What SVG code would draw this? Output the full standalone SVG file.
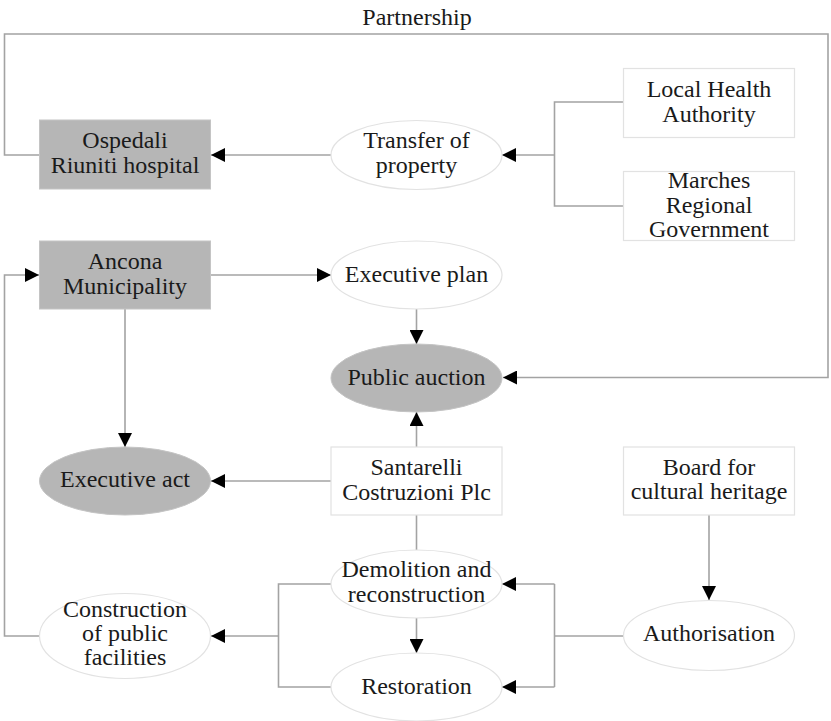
<svg xmlns="http://www.w3.org/2000/svg" width="831" height="721" viewBox="0 0 831 721">
<style>
  text { font-family: "Liberation Serif", "Times New Roman", serif; font-size: 24px; fill: #1a1a1a; text-anchor: middle; }
  .dark { fill: #b6b6b6; stroke: #c4c4c4; stroke-width: 1; }
  .light { fill: #ffffff; stroke: #e2e2e2; stroke-width: 1.2; }
  .conn { fill: none; stroke: #a3a3a3; stroke-width: 1.6; }
</style>
<defs>
  <marker id="arr" markerUnits="userSpaceOnUse" markerWidth="14" markerHeight="14" refX="14" refY="7" orient="auto">
    <path d="M0,0 L14,7 L0,14 z" fill="#000"/>
  </marker>
</defs>
<rect width="831" height="721" fill="#ffffff"/>

<text x="417" y="25">Partnership</text>

<g id="connectors">
  <path class="conn" d="M39,155 H4.5 V34 H828 V377.5 H503" marker-end="url(#arr)"/>
  <path class="conn" d="M331,155 H211" marker-end="url(#arr)"/>
  <path class="conn" d="M623,102 H554.5 V206 H623"/>
  <path class="conn" d="M554.5,155 H502" marker-end="url(#arr)"/>
  <path class="conn" d="M211,275 H331" marker-end="url(#arr)"/>
  <path class="conn" d="M416.5,309 V344" marker-end="url(#arr)"/>
  <path class="conn" d="M416.5,447 V412" marker-end="url(#arr)"/>
  <path class="conn" d="M125,309 V447" marker-end="url(#arr)"/>
  <path class="conn" d="M331,481 H211" marker-end="url(#arr)"/>
  <path class="conn" d="M416.5,515 V550"/>
  <path class="conn" d="M416.5,618 V653" marker-end="url(#arr)"/>
  <path class="conn" d="M331,584 H278.5 V687 H331"/>
  <path class="conn" d="M278.5,636 H211" marker-end="url(#arr)"/>
  <path class="conn" d="M709,515 V600" marker-end="url(#arr)"/>
  <path class="conn" d="M623,636 H554.5"/>
  <path class="conn" d="M554.5,584 V687"/>
  <path class="conn" d="M554.5,584 H502" marker-end="url(#arr)"/>
  <path class="conn" d="M554.5,687 H502" marker-end="url(#arr)"/>
  <path class="conn" d="M39,636 H4.5 V275 H39" marker-end="url(#arr)"/>
</g>

<g id="ospedali">
  <rect class="dark" x="39.5" y="120" width="171" height="69"/>
  <text x="125" y="148">Ospedali</text>
  <text x="125" y="173">Riuniti hospital</text>
</g>
<g id="transfer">
  <ellipse class="light" cx="416.5" cy="155" rx="85.5" ry="34.5"/>
  <text x="416.5" y="148">Transfer of</text>
  <text x="416.5" y="173">property</text>
</g>
<g id="local-health">
  <rect class="light" x="623.5" y="68.5" width="171" height="69"/>
  <text x="709" y="97">Local Health</text>
  <text x="709" y="122">Authority</text>
</g>
<g id="marches">
  <rect class="light" x="623.5" y="171.5" width="171" height="69"/>
  <text x="709" y="188">Marches</text>
  <text x="709" y="212.5">Regional</text>
  <text x="709" y="236.5">Government</text>
</g>
<g id="ancona">
  <rect class="dark" x="39.5" y="241" width="171" height="68"/>
  <text x="125" y="268.5">Ancona</text>
  <text x="125" y="293.5">Municipality</text>
</g>
<g id="executive-plan">
  <ellipse class="light" cx="416.5" cy="275" rx="85.5" ry="34"/>
  <text x="416.5" y="282">Executive plan</text>
</g>
<g id="public-auction">
  <ellipse class="dark" cx="416.5" cy="378" rx="85.5" ry="34" stroke="none"/>
  <text x="416.5" y="384.5">Public auction</text>
</g>
<g id="executive-act">
  <ellipse class="dark" cx="125" cy="481" rx="85.5" ry="34" stroke="none"/>
  <text x="125" y="487">Executive act</text>
</g>
<g id="santarelli">
  <rect class="light" x="331" y="447" width="171" height="68"/>
  <text x="416.5" y="475">Santarelli</text>
  <text x="416.5" y="500">Costruzioni Plc</text>
</g>
<g id="board">
  <rect class="light" x="623.5" y="447" width="171" height="68"/>
  <text x="709" y="475">Board for</text>
  <text x="709" y="498.5">cultural heritage</text>
</g>
<g id="demolition">
  <ellipse class="light" cx="416.5" cy="584" rx="85.5" ry="34"/>
  <text x="416.5" y="577">Demolition and</text>
  <text x="416.5" y="602">reconstruction</text>
</g>
<g id="restoration">
  <ellipse class="light" cx="416.5" cy="687" rx="85.5" ry="34"/>
  <text x="416.5" y="693.5">Restoration</text>
</g>
<g id="construction">
  <ellipse class="light" cx="125" cy="636" rx="85.5" ry="42.5"/>
  <text x="125" y="617">Construction</text>
  <text x="125" y="640.5">of public</text>
  <text x="125" y="665">facilities</text>
</g>
<g id="authorisation">
  <ellipse class="light" cx="709" cy="635.5" rx="85.5" ry="35"/>
  <text x="709" y="640.5">Authorisation</text>
</g>
</svg>
